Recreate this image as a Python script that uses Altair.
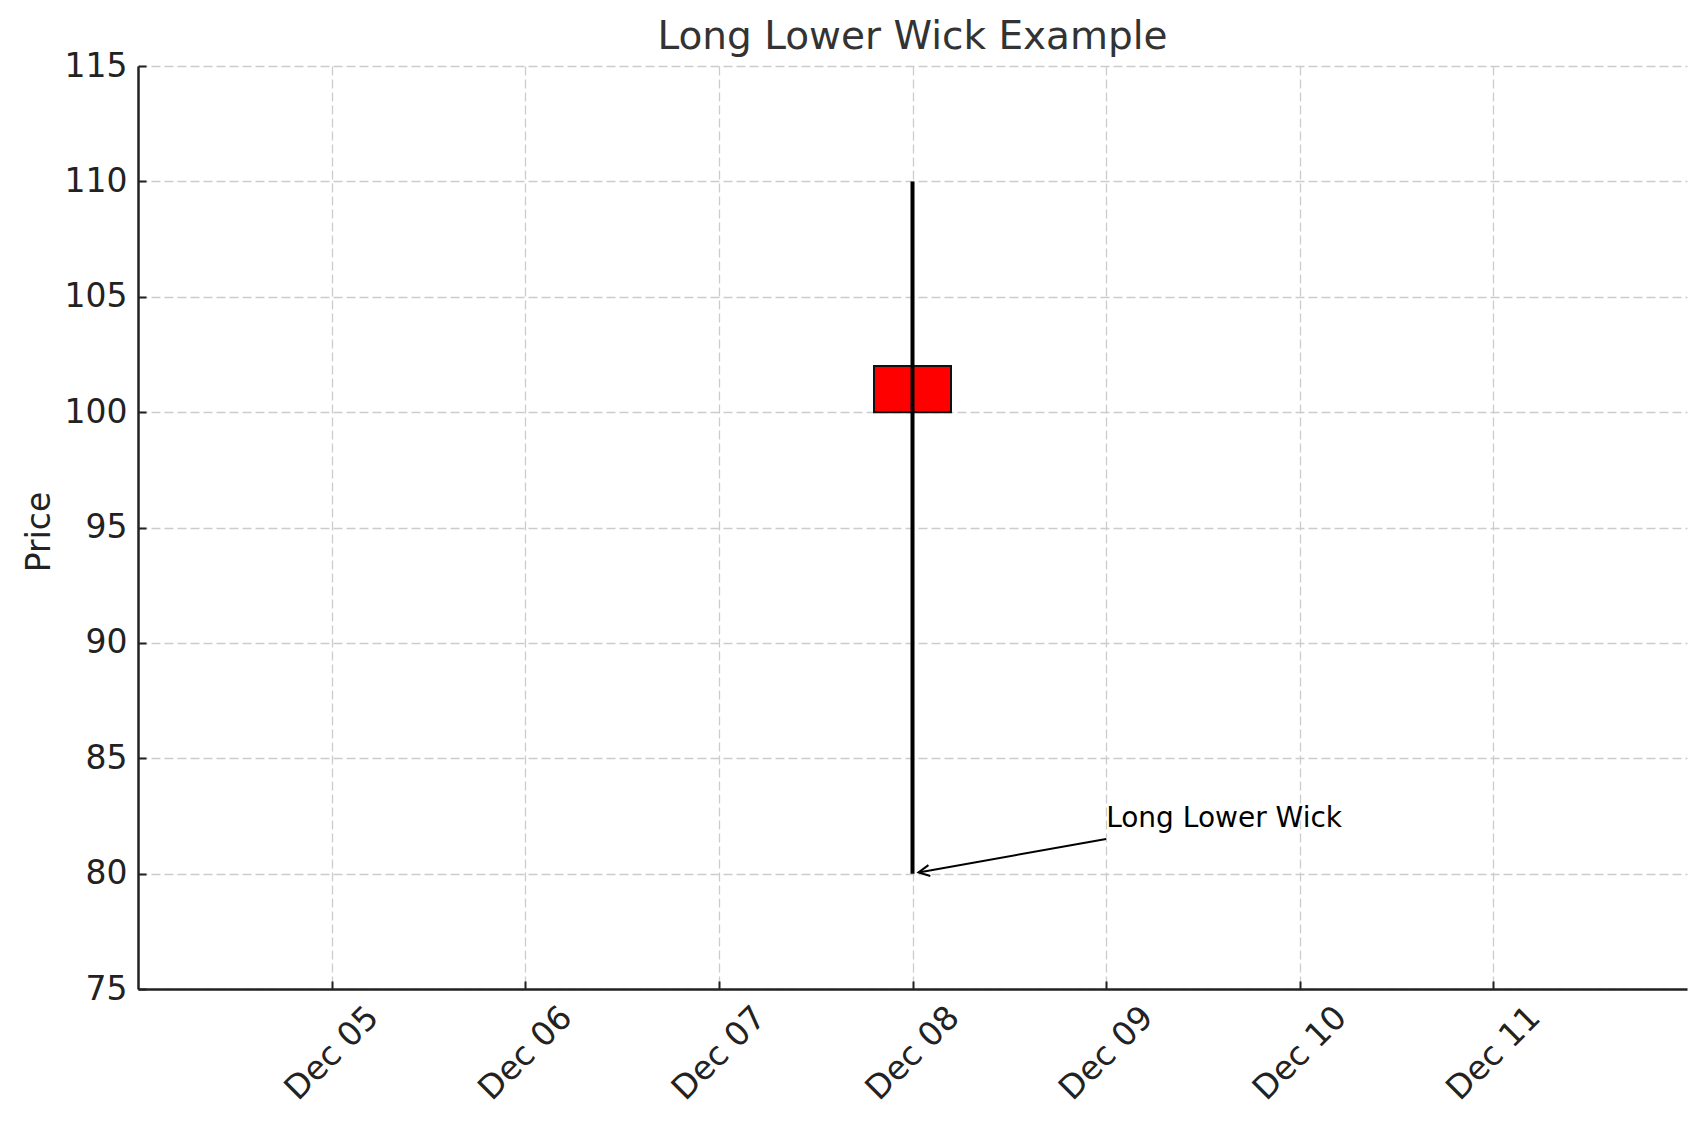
import altair as alt
import pandas as pd

# ---- data ----
dates = ["2023-12-08T00:00:00"]
open_ = [102]
close_ = [100]
high = [110]
low = [80]

tick_days = [5, 6, 7, 8, 9, 10, 11]
x_domain_days = [4, 12]
y_domain = [75, 115]
y_ticks = [75, 80, 85, 90, 95, 100, 105, 110, 115]

annot_text = ["Long Lower Wick"]
annot_text_x = ["2023-12-09T00:00:00"]
annot_text_y = [82]
arrow_tail_x = ["2023-12-09T00:00:00"]
arrow_tail_y = [81.5]
arrow_tip_x = ["2023-12-08T00:45:00"]
arrow_tip_y = [80.05]

FONT = "DejaVu Sans"
W, H = 1549, 923

candles = pd.DataFrame({"date": dates, "open": open_, "close": close_, "high": high, "low": low})
annot = pd.DataFrame({
    "label": annot_text, "tx": annot_text_x, "ty": annot_text_y,
    "ax": arrow_tail_x, "ay": arrow_tail_y, "bx": arrow_tip_x, "by": arrow_tip_y,
})

x_scale = alt.Scale(domain=[alt.DateTime(year=2023, month=12, date=d) for d in x_domain_days],
                    nice=False, padding=0)
y_scale = alt.Scale(domain=y_domain, nice=False, zero=False, padding=0)
tick_vals = [alt.DateTime(year=2023, month=12, date=d) for d in tick_days]

x_axis = alt.Axis(
    values=tick_vals, format="%b %d", title=None, ticks=False,
    labelAngle=315, labelAlign="center", labelBaseline="middle", labelPadding=64,
    labelFontSize=33, labelColor="#222222", labelFont=FONT,
    domainColor="#222222", domainWidth=2.5,
    grid=True, gridColor="#cccccc", gridDash=[9, 4], gridWidth=1.3,
)
y_axis = alt.Axis(
    values=y_ticks, title="Price", ticks=False,
    labelPadding=11, labelFontSize=33, labelColor="#222222", labelFont=FONT,
    titleFontSize=33, titleFont=FONT, titleColor="#222222", titleFontWeight="normal",
    titleAngle=270, titleAlign="center", titleBaseline="alphabetic",
    titleX=-89, titleY=H / 2 + 4,
    domainColor="#222222", domainWidth=2.5,
    grid=True, gridColor="#cccccc", gridDash=[9, 4], gridWidth=1.3,
)

base = alt.Chart(candles)

body = base.mark_bar(size=77, color="#ff0000", stroke="#111111", strokeWidth=2).encode(
    x=alt.X("date:T", scale=x_scale, axis=x_axis),
    y=alt.Y("open:Q", scale=y_scale, axis=y_axis),
    y2="close:Q",
)
wick = base.mark_rule(color="#000000", strokeWidth=4).encode(
    x="date:T", y="low:Q", y2="high:Q"
)

ann = alt.Chart(annot)
arrow_line = ann.mark_rule(color="#000000", strokeWidth=2).encode(
    x="ax:T", y="ay:Q", x2="bx:T", y2="by:Q"
)
arrow_head = ann.mark_point(
    shape="M1,-0.5L0,0L1,0.5", filled=False, stroke="#000000", strokeWidth=2,
    size=484, angle=350, opacity=1,
).encode(x="bx:T", y="by:Q")
label = ann.mark_text(
    align="left", baseline="alphabetic", fontSize=28, font=FONT, color="#000000"
).encode(x="tx:T", y="ty:Q", text="label:N")

main = alt.layer(body, wick, arrow_line, arrow_head, label)

# inward tick marks
tick_layer = base.mark_point(opacity=0).encode(
    x=alt.X("date:T", scale=x_scale, axis=alt.Axis(
        values=tick_vals, orient="bottom", offset=-8, ticks=True, tickSize=8, tickWidth=2,
        tickColor="#222222", labels=False, domain=False, grid=False, title=None)),
    y=alt.Y("open:Q", scale=y_scale, axis=alt.Axis(
        values=y_ticks, orient="left", offset=-8, ticks=True, tickSize=8, tickWidth=2,
        tickColor="#222222", labels=False, domain=False, grid=False, title=None)),
)

chart = alt.layer(main, tick_layer).resolve_axis(x="independent", y="independent").properties(
    width=W, height=H,
    title=alt.Title("Long Lower Wick Example", fontSize=39, font=FONT, fontWeight="normal",
                    color="#333333", anchor="middle", offset=8, dy=15),
    autosize=alt.AutoSizeParams(type="none"),
    padding={"left": 138, "top": 66, "right": 20, "bottom": 137},
    background="white",
).configure_view(stroke=None)

chart.save("out.html", embed_options={"renderer": "svg", "actions": False})
